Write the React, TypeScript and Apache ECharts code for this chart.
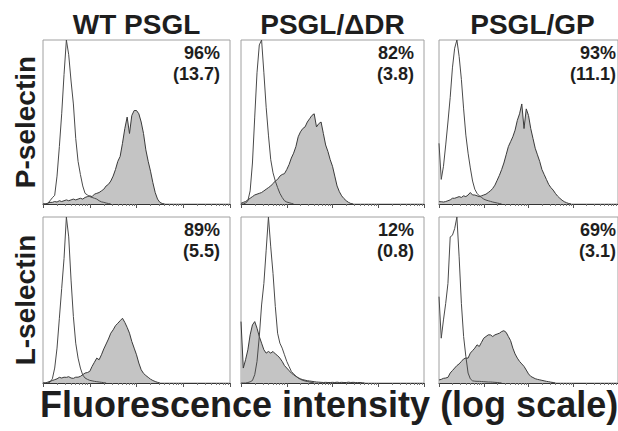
import React, { useEffect, useRef } from "react";
import * as echarts from "echarts";

// ---------- text ----------
const SAMPLES = ["WT PSGL", "PSGL/\u0394DR", "PSGL/GP"];
const RECEPTORS = ["P-selectin", "L-selectin"];
const PERCENT_POSITIVE = ["96%", "82%", "93%", "89%", "12%", "69%"];
const MEAN_RATIO = ["(13.7)", "(3.8)", "(11.1)", "(5.5)", "(0.8)", "(3.1)"];
const AXIS_TITLE = "Fluorescence intensity (log scale)";

// ---------- x scale (log10 decades) ----------
const BIN_DECADES = 0.05; // histogram bin width, in log10 units, starting at 10^0
const DECADE_VALUES = [1, 10, 100, 1000, 10000];
const MINOR_MULTIPLIERS = [2, 3, 4, 5, 6, 7, 8, 9];

// ---------- histograms (cell counts, % of panel maximum) ----------
// P-selectin row
const CONTROL_P_WT = [0, 0, 0.3, 2, 3.8, 5.3, 17, 35, 55, 79, 100, 91, 75, 61, 40, 26, 18, 11, 6.5, 5.5, 4.5, 4, 3.5, 3, 2, 1.3, 1, 0.6, 0.3, 0];
const STAIN_P_WT = [0, 0, 0.5, 1, 1, 1.5, 1.2, 2, 1.5, 2, 2.5, 2, 2.5, 3, 2.5, 3, 3.5, 3, 4, 4.5, 5, 4.5, 6, 6.5, 7, 8, 9, 11, 12, 14, 17, 21, 26, 29, 37, 46, 53, 43, 54, 57, 57, 55, 50, 43, 33, 26, 20, 13, 7, 3, 1, 0.3, 0];
const CONTROL_P_DR = [0, 0, 0.5, 2, 8, 25, 53, 80, 97, 100, 80, 59, 42, 27, 19, 14, 10, 6.5, 4, 2, 1.2, 0.8, 0.4, 0];
const STAIN_P_DR = [0.4, 1, 1.5, 2.5, 3.5, 4.5, 5.5, 6, 6.5, 7, 8, 9, 10, 11, 12.5, 14, 15, 17, 18, 18.5, 21, 24, 28, 31, 35, 41, 44, 46, 47, 50, 52, 54, 55, 47, 49, 50, 43, 36, 32, 27, 23, 17, 11, 7.5, 5, 3.3, 2, 1, 0.3, 0];
const CONTROL_P_GP = [37, 15, 23, 36, 50, 65, 83, 95, 100, 90, 76, 58, 42, 31, 22, 14, 9, 6.5, 5, 4, 3, 2.4, 2, 1.6, 1.2, 0.9, 0.6, 0.3, 0];
const STAIN_P_GP = [1.4, 1.4, 1.2, 1.5, 2, 2.5, 3.5, 3.5, 4, 4.5, 4, 5, 4.5, 5.5, 7, 5.5, 5.5, 5, 4.5, 5, 5.5, 6, 7, 8, 9.5, 11.5, 14.5, 17.5, 21, 25, 30, 35, 38, 41, 45, 51, 55, 61, 46, 58, 54, 46, 40, 34, 30, 26, 21, 18, 15, 12, 10, 8.5, 6.5, 4.8, 3.5, 2.3, 1.4, 0.8, 0.3, 0];
// L-selectin row
const CONTROL_L_WT = [0, 0, 0, 0.5, 2.5, 9, 21, 39, 57, 75, 100, 88, 62, 40, 24, 15, 9, 4.8, 3, 2.2, 1.6, 1.3, 1, 0.8, 0.6, 0.4, 0.2, 0];
const STAIN_L_WT = [0, 0, 0.5, 1, 1.5, 2, 2.5, 3.4, 3, 3.5, 3.4, 3.8, 3, 2.8, 3.5, 3.5, 4, 5, 6, 6.3, 7, 10, 12.5, 15, 14, 17, 20.5, 23.5, 26.5, 30, 32, 34.5, 36, 37.5, 39, 36.5, 33.5, 30, 25, 21, 17, 12, 8, 5.8, 4.5, 3.4, 2.3, 1.5, 0.9, 0.4, 0];
const CONTROL_L_DR = [0, 0, 0, 0.3, 0.7, 1.5, 5, 13, 28, 47, 60, 80, 100, 82, 66, 46, 30, 24, 21, 17, 13, 10, 7, 5.5, 4.2, 3, 2.2, 1.6, 1.2, 0.9, 0.6, 0.3, 0];
const STAIN_L_DR = [37, 9, 14, 20, 29, 35, 37, 33, 28, 24, 20, 18, 19, 18, 19, 17.5, 16.5, 15, 13, 10.5, 9, 7.5, 6, 5, 4, 3.2, 2.5, 2, 1.7, 1.4, 1.2, 1, 0.8, 0.6, 0.5, 0.4, 0.3, 0.4, 0.3, 0.3, 0.4, 0.3, 0.5, 0.3, 0.4, 0.3, 0.3, 0.5, 0.3, 0.4, 0.3, 0.2, 0.3, 0.1, 0];
const CONTROL_L_GP = [52, 27, 38, 48, 60, 88, 89, 93, 100, 76, 48, 28, 16, 6, 2.5, 1.3, 1.1, 1, 1, 0.9, 0.8, 0.7, 0.6, 0.6, 0.5, 0.4, 0.3, 0.2, 0];
const STAIN_L_GP = [1.8, 2.2, 2.8, 3, 3.4, 6, 7.5, 9, 10.5, 11.5, 13, 14.5, 15, 15, 18, 19.5, 21, 23, 22, 24.5, 27, 28, 29, 29, 28, 29, 29.5, 30, 31, 31.5, 30.5, 28, 25.5, 21, 17.5, 15, 13, 11.5, 10, 7.8, 5.5, 4, 3.3, 2.6, 2.2, 1.9, 1.6, 1.3, 1, 0.8, 0.5, 0.3, 0];

const CONTROLS = [CONTROL_P_WT, CONTROL_P_DR, CONTROL_P_GP, CONTROL_L_WT, CONTROL_L_DR, CONTROL_L_GP];
const STAINS = [STAIN_P_WT, STAIN_P_DR, STAIN_P_GP, STAIN_L_WT, STAIN_L_DR, STAIN_L_GP];

// ---------- layout ----------
const COL_LEFT = [43, 241, 439];
const COL_WIDTH = [187, 183, 187];
const ROW_TOP = [40, 217];
const ROW_HEIGHT = [164, 166];
const FONT = '"Liberation Sans", Arial, Helvetica, sans-serif';
const INK = "#1e1e1e";

function buildOption() {
  const majorTicks = DECADE_VALUES.map((v) => Math.log10(v));
  const minorTicks: number[] = [];
  DECADE_VALUES.slice(0, -1).forEach((d) =>
    MINOR_MULTIPLIERS.forEach((m) => minorTicks.push(Math.log10(m * d)))
  );
  const maxDecade = Math.log10(DECADE_VALUES[DECADE_VALUES.length - 1]);

  const grids: any[] = [];
  const xAxes: any[] = [];
  const yAxes: any[] = [];
  const series: any[] = [];
  const graphic: any[] = [];

  for (let r = 0; r < 2; r++) {
    for (let c = 0; c < 3; c++) {
      const i = r * 3 + c;
      grids.push({
        left: COL_LEFT[c],
        top: ROW_TOP[r],
        width: COL_WIDTH[c],
        height: ROW_HEIGHT[r],
        show: true,
        borderColor: "#a0a0a0",
        borderWidth: 1,
        backgroundColor: "#fff",
      });
      xAxes.push({
        type: "value",
        gridIndex: i,
        min: 0,
        max: maxDecade,
        position: "bottom",
        z: 6,
        axisLine: { show: true, onZero: false, lineStyle: { color: "#333", width: 1 } },
        axisTick: { show: true, inside: false, length: 4, customValues: majorTicks, lineStyle: { color: "#555", width: 1 } },
        axisLabel: { show: false },
        splitLine: { show: false },
      });
      xAxes.push({
        type: "value",
        gridIndex: i,
        min: 0,
        max: maxDecade,
        position: "bottom",
        z: 6,
        axisLine: { show: false },
        axisTick: { show: true, inside: false, length: 2, customValues: minorTicks, lineStyle: { color: "#777", width: 1 } },
        axisLabel: { show: false },
        splitLine: { show: false },
      });
      yAxes.push({ type: "value", gridIndex: i, min: 0, max: 100, show: false });

      series.push({
        type: "line",
        xAxisIndex: 2 * i,
        yAxisIndex: i,
        data: STAINS[i].map((v, k) => [k * BIN_DECADES, v]),
        symbol: "none",
        silent: true,
        lineStyle: { color: "#3a3a3a", width: 1 },
        areaStyle: { color: "#c4c4c4", opacity: 1 },
        z: 2,
      });
      series.push({
        type: "line",
        xAxisIndex: 2 * i,
        yAxisIndex: i,
        data: CONTROLS[i].map((v, k) => [k * BIN_DECADES, v]),
        symbol: "none",
        silent: true,
        lineStyle: { color: "#4a4a4a", width: 1 },
        z: 3,
      });

      const right = COL_LEFT[c] + COL_WIDTH[c] - 10;
      graphic.push({
        type: "text",
        x: right,
        y: ROW_TOP[r] + 4,
        z: 10,
        style: {
          text: PERCENT_POSITIVE[i],
          fill: INK,
          fontFamily: FONT,
          fontWeight: "bold",
          fontSize: 18,
          align: "right",
          verticalAlign: "top",
        },
      });
      graphic.push({
        type: "text",
        x: right,
        y: ROW_TOP[r] + 25,
        z: 10,
        style: {
          text: MEAN_RATIO[i],
          fill: INK,
          fontFamily: FONT,
          fontWeight: "bold",
          fontSize: 18,
          align: "right",
          verticalAlign: "top",
        },
      });
    }
  }

  SAMPLES.forEach((s, c) =>
    graphic.push({
      type: "text",
      x: COL_LEFT[c] + COL_WIDTH[c] / 2,
      y: 24,
      style: { text: s, fill: INK, fontFamily: FONT, fontWeight: "bold", fontSize: 28, align: "center", verticalAlign: "middle" },
    })
  );
  RECEPTORS.forEach((s, r) =>
    graphic.push({
      type: "text",
      x: 25,
      y: ROW_TOP[r] + ROW_HEIGHT[r] / 2,
      rotation: Math.PI / 2,
      style: { text: s, fill: INK, fontFamily: FONT, fontWeight: "bold", fontSize: 28, align: "center", verticalAlign: "middle" },
    })
  );
  graphic.push({
    type: "text",
    x: 40,
    y: 404,
    style: { text: AXIS_TITLE, fill: INK, fontFamily: FONT, fontWeight: "bold", fontSize: 36, align: "left", verticalAlign: "middle" },
  });

  return {
    animation: false,
    backgroundColor: "#fff",
    grid: grids,
    xAxis: xAxes,
    yAxis: yAxes,
    series,
    graphic,
  };
}

export default function App() {
  const ref = useRef<HTMLDivElement>(null);
  useEffect(() => {
    if (!ref.current) return;
    const chart = echarts.init(ref.current, null, { renderer: "svg" });
    chart.setOption(buildOption() as any);
    return () => chart.dispose();
  }, []);
  return (
    <div
      ref={ref}
      style={{ position: "absolute", left: 0, top: 0, width: 618, height: 431, background: "#fff" }}
    />
  );
}
